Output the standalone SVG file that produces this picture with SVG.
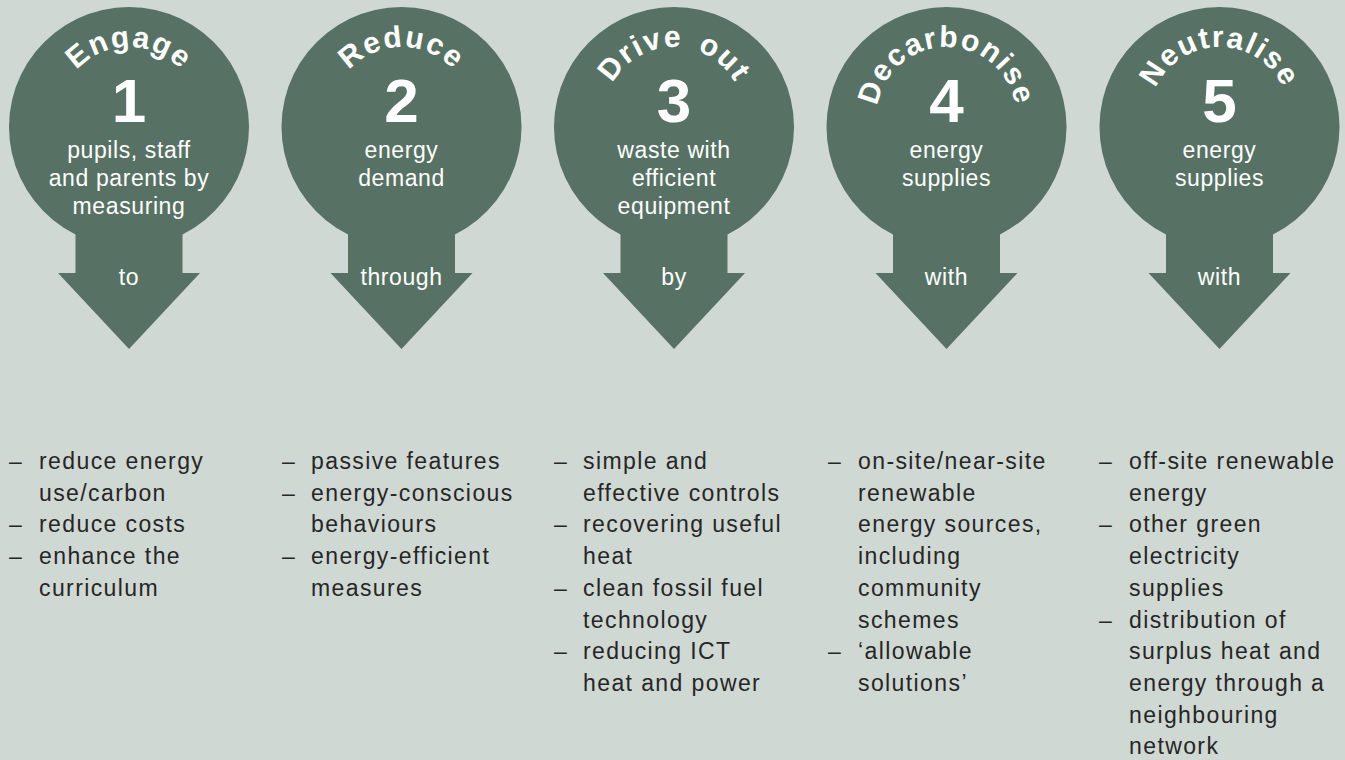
<svg xmlns="http://www.w3.org/2000/svg" xmlns:xlink="http://www.w3.org/1999/xlink" width="1345" height="760" viewBox="0 0 1345 760">
<defs>
<style>
.pin{fill:#577265}
.ttl{font-family:"Liberation Sans",Arial,sans-serif;font-weight:bold;font-size:30px;fill:#fff;letter-spacing:1.6px;word-spacing:5px}
.num{font-family:"Liberation Sans",Arial,sans-serif;font-weight:bold;font-size:62px;fill:#fff;text-anchor:middle}
.body{font-family:"Liberation Sans",Arial,sans-serif;font-size:23px;fill:#fff;text-anchor:middle;letter-spacing:0.6px}
.lst{font-family:"Liberation Sans",Arial,sans-serif;font-size:23px;fill:#262626;letter-spacing:1.4px}
</style>
<path id="a1" d="M59,117 A70,70 0 0 1 199,117"/>
<path id="a2" d="M331.5,117 A70,70 0 0 1 471.5,117"/>
<path id="a3" d="M604,117 A70,70 0 0 1 744,117"/>
<path id="a4" d="M876.5,117 A70,70 0 0 1 1016.5,117"/>
<path id="a5" d="M1149.5,117 A70,70 0 0 1 1289.5,117"/>
</defs>
<rect width="1345" height="760" fill="#d0d8d3"/>

<g id="connectors"></g>

<g id="pin1">
<path class="pin" d="M75.5,234.4 A120,120 0 1 1 182.5,234.4 L182.5,273 L200,273 L129,349 L58,273 L75.5,273 Z"/>
<text class="ttl"><textPath xlink:href="#a1" href="#a1" startOffset="50%" text-anchor="middle">Engage</textPath></text>
<text class="num" x="129" y="122">1</text>
<text class="body" x="129" y="158">pupils, staff</text>
<text class="body" x="129" y="186">and parents by</text>
<text class="body" x="129" y="214">measuring</text>
<text class="body" x="129" y="285">to</text>
</g>

<g id="pin2">
<path class="pin" d="M348,234.4 A120,120 0 1 1 455,234.4 L455,273 L472.5,273 L401.5,349 L330.5,273 L348,273 Z"/>
<text class="ttl"><textPath xlink:href="#a2" href="#a2" startOffset="50%" text-anchor="middle">Reduce</textPath></text>
<text class="num" x="401.5" y="122">2</text>
<text class="body" x="401.5" y="158">energy</text>
<text class="body" x="401.5" y="186">demand</text>
<text class="body" x="401.5" y="285">through</text>
</g>

<g id="pin3">
<path class="pin" d="M620.5,234.4 A120,120 0 1 1 727.5,234.4 L727.5,273 L745,273 L674,349 L603,273 L620.5,273 Z"/>
<text class="ttl"><textPath xlink:href="#a3" href="#a3" startOffset="50%" text-anchor="middle">Drive out</textPath></text>
<text class="num" x="674" y="122">3</text>
<text class="body" x="674" y="158">waste with</text>
<text class="body" x="674" y="186">efficient</text>
<text class="body" x="674" y="214">equipment</text>
<text class="body" x="674" y="285">by</text>
</g>

<g id="pin4">
<path class="pin" d="M893,234.4 A120,120 0 1 1 1000,234.4 L1000,273 L1017.5,273 L946.5,349 L875.5,273 L893,273 Z"/>
<text class="ttl"><textPath xlink:href="#a4" href="#a4" startOffset="50%" text-anchor="middle">Decarbonise</textPath></text>
<text class="num" x="946.5" y="122">4</text>
<text class="body" x="946.5" y="158">energy</text>
<text class="body" x="946.5" y="186">supplies</text>
<text class="body" x="946.5" y="285">with</text>
</g>

<g id="pin5">
<path class="pin" d="M1166,234.4 A120,120 0 1 1 1273,234.4 L1273,273 L1290.5,273 L1219.5,349 L1148.5,273 L1166,273 Z"/>
<text class="ttl"><textPath xlink:href="#a5" href="#a5" startOffset="50%" text-anchor="middle">Neutralise</textPath></text>
<text class="num" x="1219.5" y="122">5</text>
<text class="body" x="1219.5" y="158">energy</text>
<text class="body" x="1219.5" y="186">supplies</text>
<text class="body" x="1219.5" y="285">with</text>
</g>

<g id="list1">
<text class="lst" x="9" y="469">–</text>
<text class="lst" x="39" y="469">reduce energy</text>
<text class="lst" x="39" y="500.7">use/carbon</text>
<text class="lst" x="9" y="532.4">–</text>
<text class="lst" x="39" y="532.4">reduce costs</text>
<text class="lst" x="9" y="564.1">–</text>
<text class="lst" x="39" y="564.1">enhance the</text>
<text class="lst" x="39" y="595.8">curriculum</text>
</g>

<g id="list2">
<text class="lst" x="282" y="469">–</text>
<text class="lst" x="311" y="469">passive features</text>
<text class="lst" x="282" y="500.7">–</text>
<text class="lst" x="311" y="500.7">energy-conscious</text>
<text class="lst" x="311" y="532.4">behaviours</text>
<text class="lst" x="282" y="564.1">–</text>
<text class="lst" x="311" y="564.1">energy-efficient</text>
<text class="lst" x="311" y="595.8">measures</text>
</g>

<g id="list3">
<text class="lst" x="554" y="469">–</text>
<text class="lst" x="583" y="469">simple and</text>
<text class="lst" x="583" y="500.7">effective controls</text>
<text class="lst" x="554" y="532.4">–</text>
<text class="lst" x="583" y="532.4">recovering useful</text>
<text class="lst" x="583" y="564.1">heat</text>
<text class="lst" x="554" y="595.8">–</text>
<text class="lst" x="583" y="595.8">clean fossil fuel</text>
<text class="lst" x="583" y="627.5">technology</text>
<text class="lst" x="554" y="659.2">–</text>
<text class="lst" x="583" y="659.2">reducing ICT</text>
<text class="lst" x="583" y="690.9">heat and power</text>
</g>

<g id="list4">
<text class="lst" x="828" y="469">–</text>
<text class="lst" x="858" y="469">on-site/near-site</text>
<text class="lst" x="858" y="500.7">renewable</text>
<text class="lst" x="858" y="532.4">energy sources,</text>
<text class="lst" x="858" y="564.1">including</text>
<text class="lst" x="858" y="595.8">community</text>
<text class="lst" x="858" y="627.5">schemes</text>
<text class="lst" x="828" y="659.2">–</text>
<text class="lst" x="858" y="659.2">‘allowable</text>
<text class="lst" x="858" y="690.9">solutions’</text>
</g>

<g id="list5">
<text class="lst" x="1099" y="469">–</text>
<text class="lst" x="1129" y="469">off-site renewable</text>
<text class="lst" x="1129" y="500.7">energy</text>
<text class="lst" x="1099" y="532.4">–</text>
<text class="lst" x="1129" y="532.4">other green</text>
<text class="lst" x="1129" y="564.1">electricity</text>
<text class="lst" x="1129" y="595.8">supplies</text>
<text class="lst" x="1099" y="627.5">–</text>
<text class="lst" x="1129" y="627.5">distribution of</text>
<text class="lst" x="1129" y="659.2">surplus heat and</text>
<text class="lst" x="1129" y="690.9">energy through a</text>
<text class="lst" x="1129" y="722.6">neighbouring</text>
<text class="lst" x="1129" y="754.3">network</text>
</g>
</svg>
